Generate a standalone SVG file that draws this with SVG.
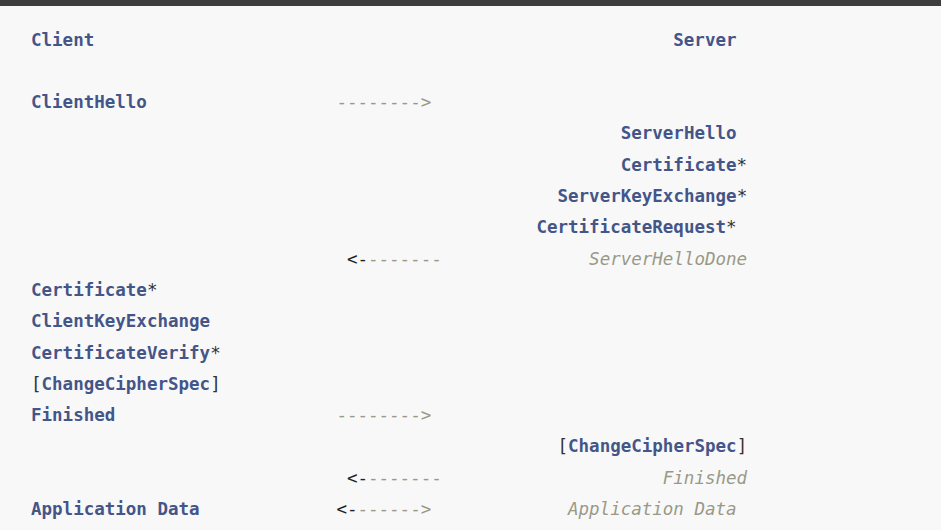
<svg xmlns="http://www.w3.org/2000/svg" width="941" height="530" viewBox="0 0 941 530">
<style>
text{font-family:"DejaVu Sans Mono","Liberation Mono",monospace;font-size:17.5px;white-space:pre}
.n{fill:#445588;font-weight:bold}
.p{fill:#333333}
.c{fill:#999988;font-style:italic}
.d{fill:#999988}
.k{fill:#222222}
</style>
<rect x="0" y="0" width="941" height="530" fill="#f8f8f8"/>
<rect x="0" y="0" width="941" height="6" fill="#3d3d3d"/>
<g transform="translate(0,0.6)">
<g id="client-header"><text x="31" y="45" class="n">Client</text></g>
<g id="server-header"><text x="673.3" y="45" class="n">Server</text></g>
<g id="client-hello"><text x="31" y="107.6" class="n">ClientHello</text></g>
<g id="server-hello"><text x="620.7" y="138.9" class="n">ServerHello</text></g>
<g id="server-certificate"><text x="620.7" y="170.2"><tspan class="n">Certificate</tspan><tspan class="p">*</tspan></text></g>
<g id="server-key-exchange"><text x="557.5" y="201.5"><tspan class="n">ServerKeyExchange</tspan><tspan class="p">*</tspan></text></g>
<g id="certificate-request"><text x="536.4" y="232.8"><tspan class="n">CertificateRequest</tspan><tspan class="p">*</tspan></text></g>
<g id="server-hello-done"><text x="589.1" y="264.1" class="c">ServerHelloDone</text></g>
<g id="client-certificate"><text x="31" y="295.4"><tspan class="n">Certificate</tspan><tspan class="p">*</tspan></text></g>
<g id="client-key-exchange"><text x="31" y="326.7" class="n">ClientKeyExchange</text></g>
<g id="certificate-verify"><text x="31" y="358"><tspan class="n">CertificateVerify</tspan><tspan class="p">*</tspan></text></g>
<g id="client-change-cipher-spec"><text x="31" y="389.3"><tspan class="p">[</tspan><tspan class="n">ChangeCipherSpec</tspan><tspan class="p">]</tspan></text></g>
<g id="client-finished"><text x="31" y="420.6" class="n">Finished</text></g>
<g id="server-change-cipher-spec"><text x="557.5" y="451.9"><tspan class="p">[</tspan><tspan class="n">ChangeCipherSpec</tspan><tspan class="p">]</tspan></text></g>
<g id="server-finished"><text x="662.8" y="483.2" class="c">Finished</text></g>
<g id="client-application-data"><text x="31" y="514.5" class="n">Application Data</text></g>
<g id="server-application-data"><text x="568" y="514.5" class="c">Application Data</text></g>
<g id="connectors">
<text x="336.4" y="107.6" class="d">--------&gt;</text>
<text x="346.9" y="264.1"><tspan class="k">&lt;-</tspan><tspan class="d">-------</tspan></text>
<text x="336.4" y="420.6" class="d">--------&gt;</text>
<text x="346.9" y="483.2"><tspan class="k">&lt;-</tspan><tspan class="d">-------</tspan></text>
<text x="336.4" y="514.5"><tspan class="k">&lt;-</tspan><tspan class="d">------&gt;</tspan></text>
</g>
</g>
</svg>
